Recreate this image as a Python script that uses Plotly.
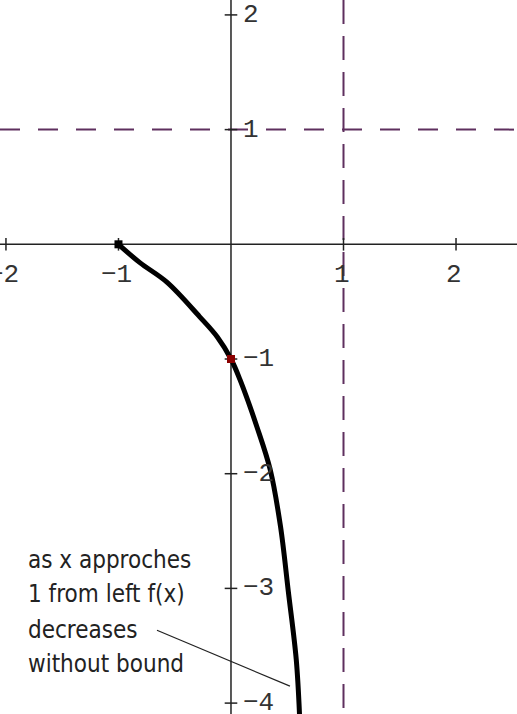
import plotly.graph_objects as go

# curve f(x)
curve_x = [-1.0, -0.81, -0.57, -0.28, -0.12, 0.0, 0.08, 0.23, 0.35, 0.44, 0.51, 0.58, 0.61]
curve_y = [0.0, -0.16, -0.33, -0.63, -0.81, -1.0, -1.18, -1.59, -1.97, -2.46, -3.03, -3.62, -4.12]

# special points
pt_black = (-1, 0)
pt_red = (0, -1)

# asymptotes
h_asym = 1
v_asym = 1

x_ticks = [-2, -1, 1, 2]
x_tick_labels = ["−2", "−1", "1", "2"]
y_ticks = [2, 1, -1, -2, -3, -4]
y_tick_labels = ["2", "1", "−1", "−2", "−3", "−4"]

note_lines = ["as x approches", "1 from left f(x)", "decreases", "without bound"]
note_y = [-2.75, -3.05, -3.36, -3.66]
note_x = -1.822

pointer_x = [-0.658, 0.524]
pointer_y = [-3.365, -3.852]

XR = [-2.053, 2.542]
YR = [-4.095, 2.13]
purple = "#5e2f5e"
axis_col = "#222222"

fig = go.Figure()

# asymptotes
fig.add_shape(type="line", x0=XR[0], x1=XR[1], y0=h_asym, y1=h_asym,
              line=dict(color=purple, width=2, dash="20px,18px"), layer="below")
fig.add_shape(type="line", x0=v_asym, x1=v_asym, y0=YR[1], y1=YR[0],
              line=dict(color=purple, width=2, dash="24px,12px"), layer="below")

# axes
fig.add_shape(type="line", x0=XR[0], x1=XR[1], y0=0, y1=0, line=dict(color=axis_col, width=1.5), layer="below")
fig.add_shape(type="line", x0=0, x1=0, y0=YR[0], y1=YR[1], line=dict(color=axis_col, width=1.5), layer="below")

# tick marks
fig.add_trace(go.Scatter(x=x_ticks, y=[0] * len(x_ticks), mode="markers",
                         marker=dict(symbol="line-ns-open", size=9, color=axis_col,
                                     line=dict(color=axis_col, width=1.5)),
                         hoverinfo="skip"))
fig.add_trace(go.Scatter(x=[0] * len(y_ticks), y=y_ticks, mode="markers",
                         marker=dict(symbol="line-ew-open", size=9, color=axis_col,
                                     line=dict(color=axis_col, width=1.5)),
                         hoverinfo="skip"))

# curve
fig.add_trace(go.Scatter(x=curve_x, y=curve_y, mode="lines",
                         line=dict(color="black", width=5, shape="spline"), hoverinfo="skip"))

# points
fig.add_trace(go.Scatter(x=[pt_black[0]], y=[pt_black[1]], mode="markers",
                         marker=dict(symbol="square", size=8, color="black")))
fig.add_trace(go.Scatter(x=[pt_red[0]], y=[pt_red[1]], mode="markers",
                         marker=dict(symbol="square", size=8, color="#8b0000")))

tick_font = dict(family="Liberation Mono, Courier New, monospace", size=26, color="#333")
for xv, lab in zip(x_ticks, x_tick_labels):
    fig.add_annotation(x=xv, y=0, text=lab, showarrow=False, xanchor="center", yanchor="middle",
                       yshift=-31, xshift=-2, font=tick_font)
for yv, lab in zip(y_ticks, y_tick_labels):
    fig.add_annotation(x=0, y=yv, text=lab, showarrow=False, xanchor="left", yanchor="middle",
                       xshift=10, font=tick_font)

# note with pointer line
note_font = dict(family="DejaVu Sans Condensed, Liberation Sans Narrow, sans-serif", size=24, color="#222")
for ty, line in zip(note_y, note_lines):
    fig.add_annotation(x=note_x, y=ty, text=line, showarrow=False, xanchor="left", yanchor="middle",
                       align="left", font=note_font)
fig.add_trace(go.Scatter(x=pointer_x, y=pointer_y, mode="lines",
                         line=dict(color=axis_col, width=1.2), hoverinfo="skip"))

fig.update_layout(
    width=517, height=714,
    margin=dict(l=0, r=0, t=0, b=0),
    paper_bgcolor="white", plot_bgcolor="white",
    showlegend=False,
    xaxis=dict(range=XR, visible=False, fixedrange=True),
    yaxis=dict(range=YR, visible=False, fixedrange=True),
)

fig.write_html("out.html", config={"displayModeBar": False},
               post_script="document.body.style.margin='0px';document.body.style.overflow='hidden';")
